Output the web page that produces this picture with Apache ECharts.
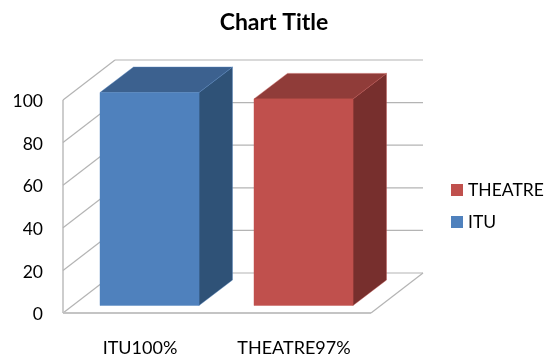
<!DOCTYPE html>
<html>
<head>
<meta charset="utf-8">
<style>html,body{margin:0;padding:0;background:#fff}#chart{width:546px;height:358px}</style>
<script src="https://cdn.jsdelivr.net/npm/echarts@6/dist/echarts.min.js"></script>
</head>
<body>
<div id="chart"></div>
<script>
// Chart content
const categories = ['ITU100%', 'THEATRE97%'];
const ituValues = [100];
const theatreValues = [97];
const yTicks = [0, 20, 40, 60, 80, 100];
const legendOrder = ['THEATRE', 'ITU'];

// Oblique projection of the 3D box
const WALL_DX = 52, WALL_DY = -40;
const BAR_SHIFT_X = 9.5, BAR_SHIFT_Y = -7.5;
const BAR_DX = 33.5, BAR_DY = -25.5;
const BAR_WIDTH_RATIO = 0.643;
const LINE = '#b4b4b4';

const chart = echarts.init(document.getElementById('chart'), null, { renderer: 'canvas' });

function poly(points, fill, stroke) {
  return {
    type: 'polygon',
    shape: { points },
    style: { fill, stroke: stroke, lineWidth: 0.8 }
  };
}

function seg(x1, y1, x2, y2, width, color) {
  return {
    type: 'line',
    shape: { x1, y1, x2, y2 },
    style: { stroke: color || LINE, lineWidth: width || 1.2 }
  };
}

// Back wall, side wall and floor, one group per y tick
function renderWall(params, api) {
  const cs = params.coordSys;
  const y = api.coord([0, api.value(0)])[1];
  const left = cs.x, right = cs.x + cs.width;
  const children = [
    seg(left, y, left + WALL_DX, y + WALL_DY),
    seg(left + WALL_DX, y + WALL_DY, right + WALL_DX, y + WALL_DY)
  ];
  if (api.value(0) === 0) {
    children.push(
      seg(left, y, right, y, 1.8, '#c4c4c4'),
      seg(right, y, right + WALL_DX, y + WALL_DY),
      seg(left, y, left, cs.y, 1.5, '#bcbcbc')
    );
  }
  return { type: 'group', children };
}

// Extruded bar: front, top and side faces
function makeBarRenderer(front, top, side, edge) {
  return function (params, api) {
    const band = api.size([1, 0])[0];
    const w = band * BAR_WIDTH_RATIO;
    const base = api.coord([api.value(0), 0]);
    const head = api.coord([api.value(0), api.value(1)]);
    const x0 = base[0] + BAR_SHIFT_X - w / 2;
    const x1 = x0 + w;
    const yb = base[1] + BAR_SHIFT_Y;
    const yt = head[1] + BAR_SHIFT_Y;
    return {
      type: 'group',
      children: [
        poly([[x1, yb], [x1 + BAR_DX, yb + BAR_DY], [x1 + BAR_DX, yt + BAR_DY], [x1, yt]], side, edge),
        poly([[x0, yt], [x1, yt], [x1 + BAR_DX, yt + BAR_DY], [x0 + BAR_DX, yt + BAR_DY]], top, edge),
        poly([[x0, yb], [x1, yb], [x1, yt], [x0, yt]], front, edge)
      ]
    };
  };
}

const labelFont = 'Lato, Carlito, "Open Sans", sans-serif';

chart.setOption({
  animation: false,
  backgroundColor: '#fff',
  title: {
    text: 'Chart Title',
    left: 269,
    textAlign: 'center',
    top: 6,
    textStyle: { fontFamily: labelFont, fontSize: 23, fontWeight: 'bold', color: '#000' }
  },
  legend: {
    data: legendOrder,
    orient: 'vertical',
    left: 446,
    top: 176,
    itemWidth: 12,
    itemHeight: 12,
    itemGap: 14,
    icon: 'rect',
    selectedMode: false,
    textStyle: { fontFamily: labelFont, fontSize: 17.5, color: '#000' }
  },
  grid: { left: 63, top: 100, width: 308, height: 213, containLabel: false },
  xAxis: {
    type: 'category',
    data: categories,
    axisLine: { show: false },
    axisTick: { show: false },
    splitLine: { show: false },
    axisLabel: { margin: 26, fontFamily: labelFont, fontSize: 18, color: '#000' }
  },
  yAxis: {
    type: 'value',
    min: 0,
    max: 100,
    interval: 20,
    axisLine: { show: false },
    axisTick: { show: false },
    splitLine: { show: false },
    axisLabel: {
      margin: 20,
      formatter: '{tick|{value}}',
      rich: {
        tick: { padding: [3, 0, 0, 0], fontFamily: labelFont, fontSize: 17.5, color: '#000' }
      }
    }
  },
  series: [
    {
      type: 'custom',
      name: 'walls',
      silent: true,
      clip: false,
      z: 1,
      encode: { y: 0 },
      data: yTicks.map(v => [v]),
      renderItem: renderWall
    },
    {
      type: 'custom',
      name: 'ITU',
      clip: false,
      z: 2,
      itemStyle: { color: '#4f81bd' },
      encode: { x: 0, y: 1 },
      data: ituValues.map(v => [0, v]),
      renderItem: makeBarRenderer('#4f81bd', '#3c618f', '#2f5277', 'rgba(79,129,189,0.5)')
    },
    {
      type: 'custom',
      name: 'THEATRE',
      clip: false,
      z: 2,
      itemStyle: { color: '#c0504d' },
      encode: { x: 0, y: 1 },
      data: theatreValues.map(v => [1, v]),
      renderItem: makeBarRenderer('#c0504d', '#903c39', '#772f2d', 'rgba(192,80,77,0.5)')
    }
  ]
});
</script>
</body>
</html>
